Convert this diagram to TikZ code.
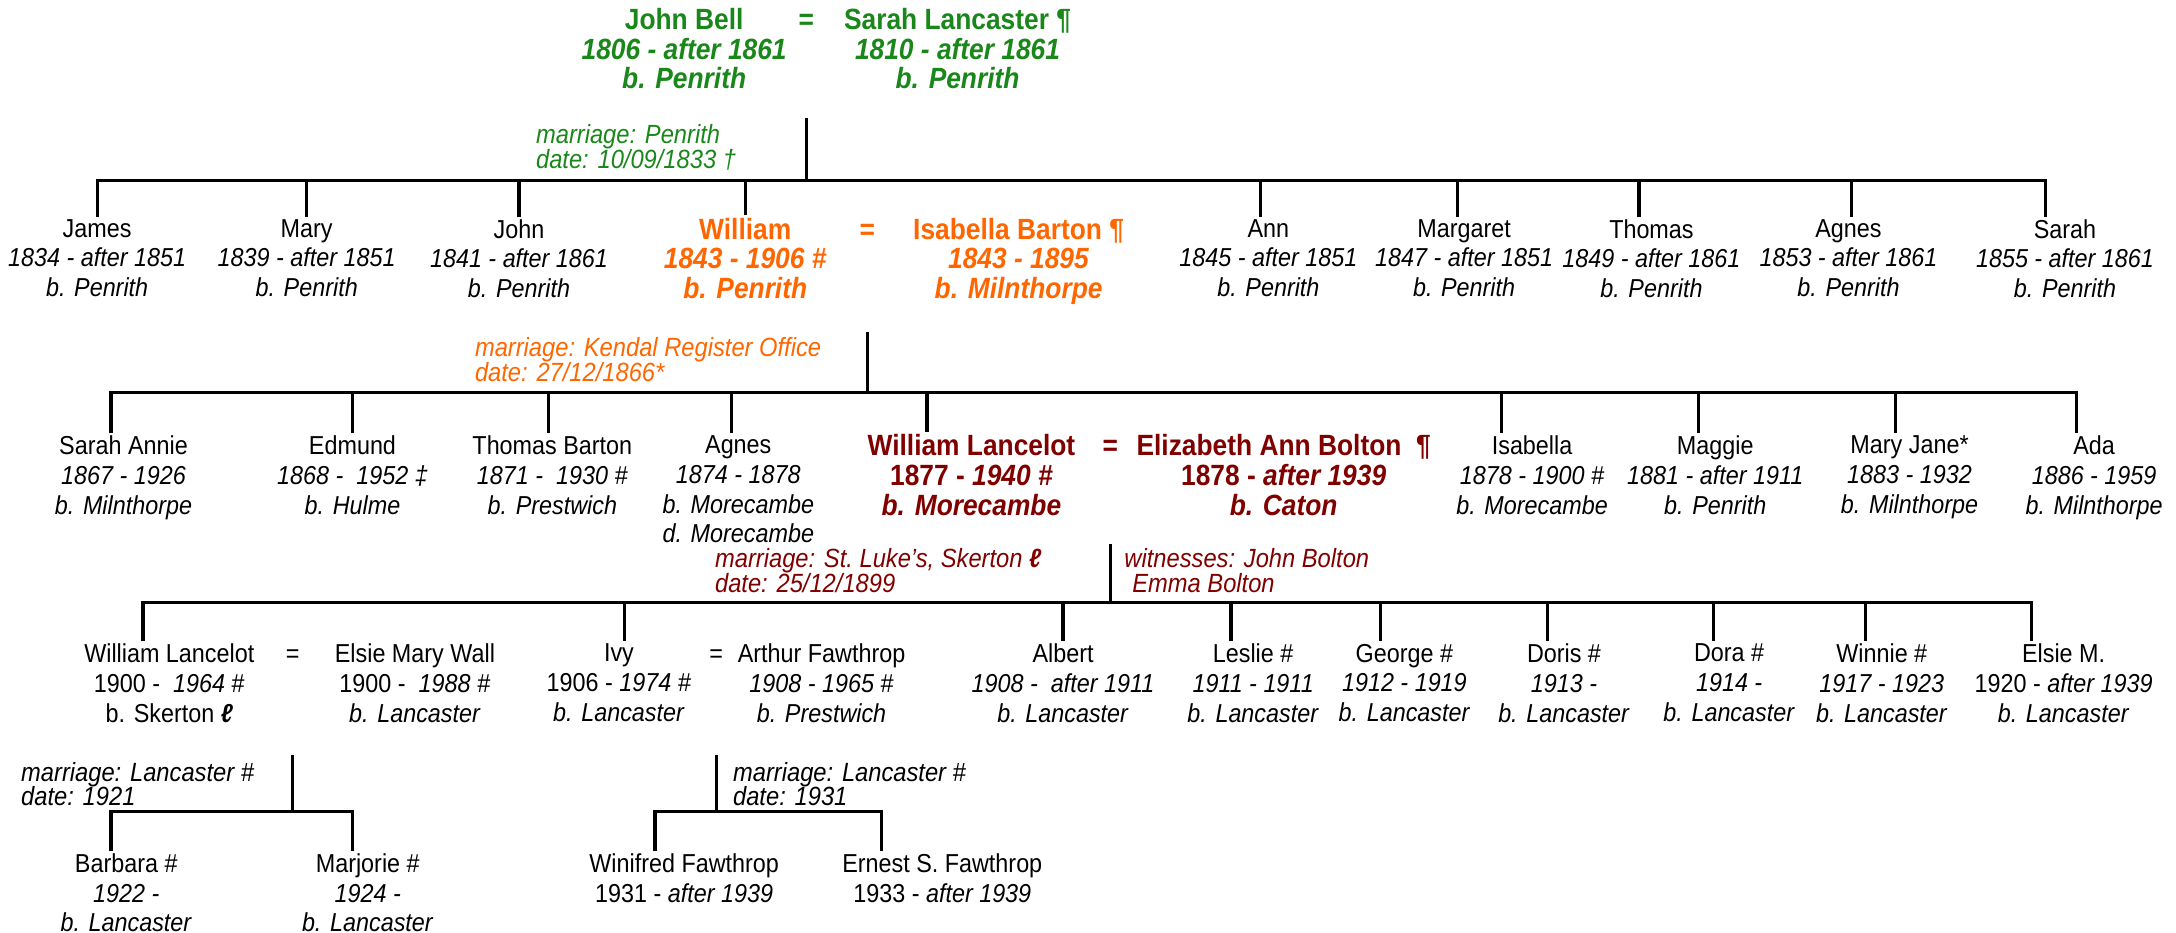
\documentclass[tikz,border=0pt]{standalone}
\usepackage{fontspec}
\setmainfont{Liberation Sans}[FakeStretch=0.9]
\usetikzlibrary{calc}
\definecolor{famgreen}{RGB}{25,135,25}
\definecolor{famorange}{RGB}{255,102,0}
\definecolor{famred}{RGB}{128,0,0}

\begin{document}
\begin{tikzpicture}[x=0.025cm, y=-0.025cm,
    famline/.style = {line width=1.6pt, line cap=rect},
    kid/.style = {anchor=north, align=center, inner sep=2pt, font=\fontsize{13.3}{15.2}\selectfont},
    bold/.style = {font=\fontsize{15}{15.2}\selectfont\bfseries},
    note/.style = {anchor=west, align=left, inner sep=0pt, font=\fontsize{13.5}{12.8}\selectfont\itshape}]

    \useasboundingbox (0,0) rectangle (1568,672.3);

    % John Bell = Sarah Lancaster
    \node[kid, bold, text=famgreen] (jbell) at (493,3) {John Bell\\ \textit{1806 - after 1861}\\ \textit{b. Penrith}};
    \node[kid, bold, text=famgreen] (eq0) at (581,3) {\vphantom{Ab}=};
    \node[kid, bold, text=famgreen] (slanc) at (690,3) {Sarah Lancaster ¶\\ \textit{1810 - after 1861}\\ \textit{b. Penrith}};
    \node[note, text=famgreen] (wed0) at (386,106) {marriage: Penrith\\date: 10/09/1833 †};

    % their children
    \node[kid] (james) at (70,155) {James\\ \textit{1834 - after 1851}\\ \textit{b. Penrith}};
    \node[kid] (mary) at (221,155) {Mary\\ \textit{1839 - after 1851}\\ \textit{b. Penrith}};
    \node[kid] (john) at (374,155) {John\\ \textit{1841 - after 1861}\\ \textit{b. Penrith}};
    \node[kid, bold, text=famorange] (william) at (537,154) {William\\ \textit{1843 - 1906 \#}\\ \textit{b. Penrith}};
    \node[kid, bold, text=famorange] (eq1) at (625,154) {\vphantom{Ab}=};
    \node[kid, bold, text=famorange] (isabella) at (734,154) {Isabella Barton ¶\\ \textit{1843 - 1895}\\ \textit{b. Milnthorpe}};
    \node[kid] (ann) at (914,155) {Ann\\ \textit{1845 - after 1851}\\ \textit{b. Penrith}};
    \node[kid] (margaret) at (1055,155) {Margaret\\ \textit{1847 - after 1851}\\ \textit{b. Penrith}};
    \node[kid] (thomas) at (1190,155) {Thomas\\ \textit{1849 - after 1861}\\ \textit{b. Penrith}};
    \node[kid] (agnes) at (1332,155) {Agnes\\ \textit{1853 - after 1861}\\ \textit{b. Penrith}};
    \node[kid] (sarah) at (1488,155) {Sarah\\ \textit{1855 - after 1861}\\ \textit{b. Penrith}};
    \node[note, text=famorange] (wed1) at (342,259) {marriage: Kendal Register Office\\date: 27/12/1866*};

    % William = Isabella Barton, children
    \node[kid] (sannie) at (89,311) {Sarah Annie\\ \textit{1867 - 1926}\\ \textit{b. Milnthorpe}};
    \node[kid] (edmund) at (254,311) {Edmund\\ \textit{1868 - \ 1952 ‡}\\ \textit{b. Hulme}};
    \node[kid] (tbarton) at (398,311) {Thomas Barton\\ \textit{1871 - \ 1930 \#}\\ \textit{b. Prestwich}};
    \node[kid] (agnes2) at (532,311) {Agnes\\ \textit{1874 - 1878}\\ \textit{b. Morecambe}\\ \textit{d. Morecambe}};
    \node[kid, bold, text=famred] (wl) at (700,310) {William Lancelot\\ 1877 - \textit{1940 \#}\\ \textit{b. Morecambe}};
    \node[kid, bold, text=famred] (eq2) at (800,310) {\vphantom{Ab}=};
    \node[kid, bold, text=famred] (eab) at (925,310) {Elizabeth Ann Bolton \ ¶\\ 1878 - \textit{after 1939}\\ \textit{b. Caton}};
    \node[kid] (isab2) at (1104,311) {Isabella\\ \textit{1878 - 1900 \#}\\ \textit{b. Morecambe}};
    \node[kid] (maggie) at (1236,311) {Maggie\\ \textit{1881 - after 1911}\\ \textit{b. Penrith}};
    \node[kid] (maryjane) at (1376,311) {Mary Jane*\\ \textit{1883 - 1932}\\ \textit{b. Milnthorpe}};
    \node[kid] (ada) at (1509,311) {Ada\\ \textit{1886 - 1959}\\ \textit{b. Milnthorpe}};
    \node[note, text=famred] (wed2) at (515,411) {marriage: St.\ Luke’s, Skerton \textbf{ℓ}\\date: 25/12/1899};
    \node[note, text=famred] (witn) at (810,411) {witnesses: John Bolton\\\hspace{0.3em}Emma Bolton};

    % William Lancelot = Elizabeth Ann Bolton, children
    \node[kid] (wl2) at (122,461) {William Lancelot\\ 1900 - \ \textit{1964} \#\\ b. Skerton \textbf{\textit{ℓ}}};
    \node[kid] (eq3) at (211,461) {\vphantom{Ab}=};
    \node[kid] (emw) at (299,461) {Elsie Mary Wall\\ 1900 - \ \textit{1988 \#}\\ \textit{b. Lancaster}};
    \node[kid] (ivy) at (446,461) {Ivy\\ 1906 - \textit{1974 \#}\\ \textit{b. Lancaster}};
    \node[kid] (eq4) at (516,461) {\vphantom{Ab}=};
    \node[kid] (arthur) at (592,461) {Arthur Fawthrop\\ \textit{1908 - 1965 \#}\\ \textit{b. Prestwich}};
    \node[kid] (albert) at (766,461) {Albert\\ \textit{1908 - \ after 1911}\\ \textit{b. Lancaster}};
    \node[kid] (leslie) at (903,461) {Leslie \#\\ \textit{1911 - 1911}\\ \textit{b. Lancaster}};
    \node[kid] (george) at (1012,461) {George \#\\ \textit{1912 - 1919}\\ \textit{b. Lancaster}};
    \node[kid] (doris) at (1127,461) {Doris \#\\ \textit{1913 -}\\ \textit{b. Lancaster}};
    \node[kid] (dora) at (1246,461) {Dora \#\\ \textit{1914 -}\\ \textit{b. Lancaster}};
    \node[kid] (winnie) at (1356,461) {Winnie \#\\ \textit{1917 - 1923}\\ \textit{b. Lancaster}};
    \node[kid] (elsiem) at (1487,461) {Elsie M.\\ 1920 - \textit{after 1939}\\ \textit{b. Lancaster}};

    % grandchildren
    \node[note] (wed3) at (15,565) {marriage: Lancaster \#\\date: 1921};
    \node[note] (wed4) at (528,565) {marriage: Lancaster \#\\date: 1931};
    \node[kid] (barbara) at (91,612) {Barbara \#\\ \textit{1922 -}\\ \textit{b. Lancaster}};
    \node[kid] (marjorie) at (265,612) {Marjorie \#\\ \textit{1924 -}\\ \textit{b. Lancaster}};
    \node[kid] (winifred) at (493,612) {Winifred Fawthrop\\ 1931 - \textit{after 1939}};
    \node[kid] (ernest) at (679,612) {Ernest S. Fawthrop\\ 1933 - \textit{after 1939}};

    % marriage lines
    \coordinate (m0) at (581,86);  \coordinate (b0) at (581,130);
    \coordinate (m1) at (625,240); \coordinate (b1) at (625,283);
    \coordinate (m2) at (800,393); \coordinate (b2) at (800,434);
    \coordinate (m3) at (211,545); \coordinate (b3) at (211,585);
    \coordinate (m4) at (516,545); \coordinate (b4) at (516,585);
    \foreach \i in {0,...,4}
        \draw[famline] (m\i) -- (b\i);

    % drops to the children
    \foreach \n/\s in {james/0, mary/0, john/0, william/0, ann/-6, margaret/-5, thomas/-9, agnes/2, sarah/-14}
        \draw[famline] ([xshift=\s*0.025cm]\n.north |- b0) coordinate (t-\n) -- ([xshift=\s*0.025cm]\n.north);
    \foreach \n/\s in {sannie/-9, edmund/0, tbarton/-3, agnes2/-5, wl/-32, isab2/-22, maggie/-12, maryjane/-10, ada/-13}
        \draw[famline] ([xshift=\s*0.025cm]\n.north |- b1) coordinate (t-\n) -- ([xshift=\s*0.025cm]\n.north);
    \foreach \n/\s in {wl2/-19, ivy/4, albert/0, leslie/-16, george/-17, doris/-12, dora/-11, winnie/-12, elsiem/-23}
        \draw[famline] ([xshift=\s*0.025cm]\n.north |- b2) coordinate (t-\n) -- ([xshift=\s*0.025cm]\n.north);
    \foreach \n/\s in {barbara/-11, marjorie/-11}
        \draw[famline] ([xshift=\s*0.025cm]\n.north |- b3) coordinate (t-\n) -- ([xshift=\s*0.025cm]\n.north);
    \foreach \n/\s in {winifred/-21, ernest/-44}
        \draw[famline] ([xshift=\s*0.025cm]\n.north |- b4) coordinate (t-\n) -- ([xshift=\s*0.025cm]\n.north);

    % sibling bars
    \draw[famline] (t-james) -- (t-sarah);
    \draw[famline] (t-sannie) -- (t-ada);
    \draw[famline] (t-wl2) -- (t-elsiem);
    \draw[famline] (t-barbara) -- (t-marjorie);
    \draw[famline] (t-winifred) -- (t-ernest);

\end{tikzpicture}
\end{document}
